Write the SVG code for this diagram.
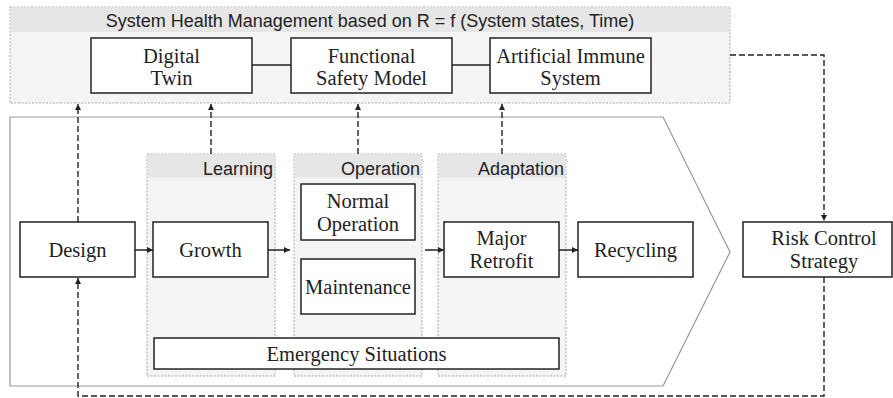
<svg xmlns="http://www.w3.org/2000/svg" width="893" height="398" viewBox="0 0 893 398">
<style>
  .grp{fill:#f4f4f4;stroke:#a8a8a8;stroke-width:1;stroke-dasharray:2,1.5}
  .hdr{fill:#e6e6e6;stroke:none}
  .node{fill:#ffffff;stroke:#222;stroke-width:1.5}
  .st{font-family:"Liberation Serif","Times New Roman",serif;font-size:20.5px;fill:#222;text-anchor:middle}
  .ss{font-family:"Liberation Sans",Arial,sans-serif;font-size:18px;fill:#222}
  .solid{fill:none;stroke:#222;stroke-width:1.5}
  .dash{fill:none;stroke:#222;stroke-width:1.4;stroke-dasharray:6,3}
</style>
<defs>
  <marker id="ah" viewBox="0 0 10 10" refX="10" refY="5" markerWidth="7" markerHeight="6" markerUnits="userSpaceOnUse" orient="auto">
    <path d="M0,0 L10,5 L0,10 Z" fill="#222"/>
  </marker>
</defs>

<g id="lifecycle">
  <path d="M10,117 L663,117 L730,252 L663,386 L10,386 Z" fill="#ffffff" stroke="#9a9a9a" stroke-width="1.2"/>
</g>

<g id="shm">
  <rect class="grp" x="10" y="7" width="720" height="96"/>
  <rect class="hdr" x="10.5" y="7.5" width="719" height="24.5"/>
  <text class="ss" x="370" y="27" text-anchor="middle">System Health Management based on R = f (System states, Time)</text>
</g>

<g id="stage-learning">
  <rect class="grp" x="147" y="154" width="128" height="222"/>
  <rect class="hdr" x="147.5" y="154.5" width="127" height="23"/>
  <text class="ss" x="273" y="175" text-anchor="end">Learning</text>
</g>
<g id="stage-operation">
  <rect class="grp" x="294" y="154" width="128" height="222"/>
  <rect class="hdr" x="294.5" y="154.5" width="127" height="23"/>
  <text class="ss" x="420" y="175" text-anchor="end">Operation</text>
</g>
<g id="stage-adaptation">
  <rect class="grp" x="438" y="154" width="128" height="222"/>
  <rect class="hdr" x="438.5" y="154.5" width="127" height="23"/>
  <text class="ss" x="564" y="175" text-anchor="end">Adaptation</text>
</g>

<g id="digital-twin">
  <rect class="node" x="91" y="38" width="161" height="55"/>
  <text class="st" x="171.5" y="62.5">Digital</text>
  <text class="st" x="171.5" y="85">Twin</text>
</g>
<g id="functional-safety-model">
  <rect class="node" x="291" y="38" width="161" height="55"/>
  <text class="st" x="371.5" y="62.5">Functional</text>
  <text class="st" x="371.5" y="85">Safety Model</text>
</g>
<g id="artificial-immune-system">
  <rect class="node" x="490" y="38" width="161" height="55"/>
  <text class="st" x="570.5" y="62.5">Artificial Immune</text>
  <text class="st" x="570.5" y="85">System</text>
</g>

<g id="design">
  <rect class="node" x="20" y="222" width="115" height="55"/>
  <text class="st" x="77.5" y="257">Design</text>
</g>
<g id="growth">
  <rect class="node" x="153" y="222" width="115" height="55"/>
  <text class="st" x="210.5" y="257">Growth</text>
</g>
<g id="normal-operation">
  <rect class="node" x="301" y="184" width="114" height="56"/>
  <text class="st" x="358" y="208">Normal</text>
  <text class="st" x="358" y="230.5">Operation</text>
</g>
<g id="maintenance">
  <rect class="node" x="301" y="259" width="114" height="55"/>
  <text class="st" x="358" y="294">Maintenance</text>
</g>
<g id="major-retrofit">
  <rect class="node" x="444" y="222" width="115" height="55"/>
  <text class="st" x="501.5" y="245">Major</text>
  <text class="st" x="501.5" y="268">Retrofit</text>
</g>
<g id="recycling">
  <rect class="node" x="578" y="222" width="115" height="55"/>
  <text class="st" x="635.5" y="257">Recycling</text>
</g>
<g id="emergency-situations">
  <rect class="node" x="154" y="338" width="405" height="31"/>
  <text class="st" x="356.5" y="360.5">Emergency Situations</text>
</g>
<g id="risk-control-strategy">
  <rect class="node" x="743" y="222" width="149" height="55"/>
  <text class="st" x="824" y="245">Risk Control</text>
  <text class="st" x="824" y="268">Strategy</text>
</g>

<g id="connectors">
  <line class="solid" x1="252" y1="65" x2="291" y2="65"/>
  <line class="solid" x1="452" y1="65" x2="490" y2="65"/>
  <line class="solid" x1="135" y1="250" x2="153" y2="250" marker-end="url(#ah)"/>
  <line class="solid" x1="268" y1="250" x2="290" y2="250" marker-end="url(#ah)"/>
  <line class="solid" x1="425" y1="250" x2="444" y2="250" marker-end="url(#ah)"/>
  <line class="solid" x1="559" y1="250" x2="578" y2="250" marker-end="url(#ah)"/>
  <path class="dash" d="M78,222 L78,104" marker-end="url(#ah)"/>
  <path class="dash" d="M211,154 L211,104" marker-end="url(#ah)"/>
  <path class="dash" d="M358,154 L358,104" marker-end="url(#ah)"/>
  <path class="dash" d="M502,154 L502,104" marker-end="url(#ah)"/>
  <path class="dash" d="M730,55 L824,55 L824,221" marker-end="url(#ah)"/>
  <path class="dash" d="M824,277 L824,396 L78,396 L78,278" marker-end="url(#ah)"/>
</g>
</svg>
